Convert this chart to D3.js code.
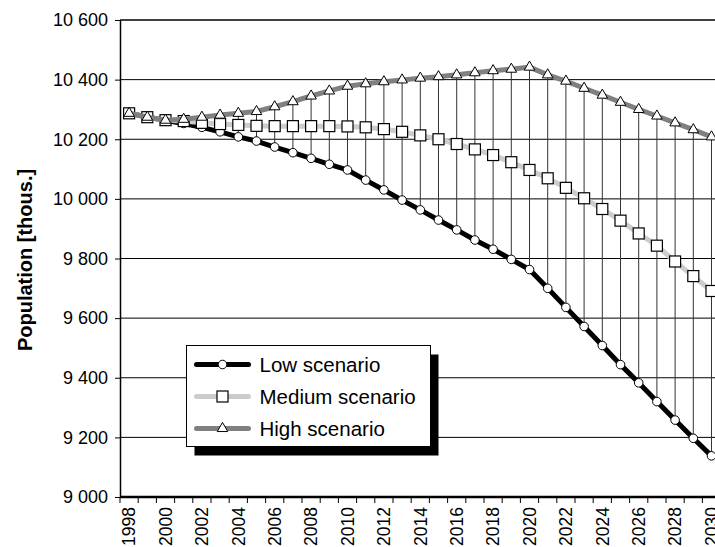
<!DOCTYPE html>
<html>
<head>
<meta charset="utf-8">
<script src="https://cdn.jsdelivr.net/npm/d3@7"></script>
<style>
html,body{margin:0;padding:0;background:#fff;overflow:hidden;}
svg{display:block;font-family:"Liberation Sans",Arial,Helvetica,sans-serif;}
</style>
</head>
<body>
<svg id="chart" width="715" height="547"></svg>
<script>
const years = d3.range(1998, 2031);
const lowValues = [10287,10275,10263,10253,10240,10225,10208,10194,10174,10155,10136,10116,10097,10063,10030,9996,9963,9929,9896,9862,9831,9797,9763,9700,9636,9572,9508,9444,9383,9320,9258,9197,9138];
const mediumValues = [10287,10274,10264,10261,10255,10251,10248,10245,10244,10244,10244,10244,10243,10240,10234,10225,10213,10200,10184,10166,10147,10123,10097,10069,10037,10002,9966,9927,9884,9843,9790,9741,9691];
const highValues = [10287,10274,10264,10267,10274,10281,10287,10293,10309,10326,10345,10362,10378,10386,10393,10399,10405,10410,10416,10423,10430,10435,10442,10416,10395,10371,10348,10324,10300,10278,10255,10232,10208];
const yTickValues = [9000,9200,9400,9600,9800,10000,10200,10400,10600];
const xTickLabels = years.filter(y => y % 2 === 0);
const seriesNames = ["Low scenario","Medium scenario","High scenario"];

const svg = d3.select("#chart");
const plotL = 120, plotT = 20, plotB = 497, bandW = 18.2;
const plotR = plotL + bandW * years.length;

const x = d3.scaleBand().domain(years).range([plotL, plotR]).paddingInner(0).paddingOuter(0);
const cx = d => x(d) + x.bandwidth() / 2;
const y = d3.scaleLinear().domain([9000, 10600]).range([plotB, plotT]);
const fmt = v => d3.format(",")(v).replace(",", " ");

// gridlines
svg.append("g").selectAll("line").data(yTickValues.filter(v => v > 9000)).join("line")
  .attr("x1", plotL).attr("x2", plotR)
  .attr("y1", d => y(d)).attr("y2", d => y(d))
  .attr("stroke", "#000").attr("stroke-width", d => d === 10600 ? 1.6 : 1);

// y axis
const yAxis = svg.append("g").attr("transform", `translate(${plotL},0)`)
  .call(d3.axisLeft(y).tickValues(yTickValues).tickFormat(fmt).tickSizeInner(5).tickSizeOuter(0).tickPadding(7));
yAxis.select(".domain").attr("stroke", "#000").attr("stroke-width", 1.5);
yAxis.selectAll(".tick line").attr("stroke", "#000");
yAxis.selectAll(".tick text").attr("font-size", 18).attr("fill", "#000")
  .attr("font-family", "'Liberation Sans',Arial,sans-serif");

// y title
svg.append("text")
  .attr("transform", `translate(32,260) rotate(-90)`)
  .attr("text-anchor", "middle")
  .attr("font-size", 20).attr("font-weight", "bold")
  .text("Population [thous.]");

// x axis
const xAxisG = svg.append("g").attr("transform", `translate(0,${plotB})`);
xAxisG.append("line").attr("x1", plotL).attr("x2", plotR).attr("y1", 0).attr("y2", 0)
  .attr("stroke", "#000").attr("stroke-width", 2.5);
xAxisG.selectAll("line.tk").data(years.concat([null])).join("line").attr("class", "tk")
  .attr("x1", d => d === null ? plotR : x(d)).attr("x2", d => d === null ? plotR : x(d))
  .attr("y1", 0).attr("y2", 6).attr("stroke", "#000").attr("stroke-width", 1);
xAxisG.selectAll("text").data(xTickLabels).join("text")
  .attr("transform", d => `translate(${cx(d)},10) rotate(-90)`)
  .attr("text-anchor", "end").attr("dy", "0.36em")
  .attr("font-size", 17.5).attr("fill", "#000")
  .text(d => d);

// drop lines high -> low
svg.append("g").selectAll("line").data(years).join("line")
  .attr("x1", d => cx(d)).attr("x2", d => cx(d))
  .attr("y1", (d, i) => y(highValues[i])).attr("y2", (d, i) => y(lowValues[i]))
  .attr("stroke", "#333").attr("stroke-width", 1);

const line = d3.line().x((d, i) => cx(years[i])).y(d => y(d));

// low
svg.append("path").datum(lowValues).attr("d", line)
  .attr("fill", "none").attr("stroke", "#000").attr("stroke-width", 5);
svg.append("g").selectAll("circle").data(lowValues).join("circle")
  .attr("cx", (d, i) => cx(years[i])).attr("cy", d => y(d)).attr("r", 4.3)
  .attr("fill", "#fff").attr("stroke", "#000").attr("stroke-width", 1);

// medium
svg.append("path").datum(mediumValues).attr("d", line)
  .attr("fill", "none").attr("stroke", "#cccccc").attr("stroke-width", 5);
svg.append("g").selectAll("rect").data(mediumValues).join("rect")
  .attr("x", (d, i) => cx(years[i]) - 5.5).attr("y", d => y(d) - 5.5)
  .attr("width", 11).attr("height", 11)
  .attr("fill", "#fff").attr("stroke", "#000").attr("stroke-width", 1.2);

// high
const tri = d3.symbol().type(d3.symbolTriangle).size(48);
svg.append("path").datum(highValues).attr("d", line)
  .attr("fill", "none").attr("stroke", "#808080").attr("stroke-width", 5);
svg.append("g").selectAll("path").data(highValues).join("path")
  .attr("transform", (d, i) => `translate(${cx(years[i])},${y(d)})`)
  .attr("d", tri)
  .attr("fill", "#fff").attr("stroke", "#000").attr("stroke-width", 1);

// legend
const lg = svg.append("g").attr("transform", "translate(186.5,345.5)");
lg.append("rect").attr("x", 8).attr("y", 9).attr("width", 244).attr("height", 101).attr("fill", "#000");
lg.append("rect").attr("x", 0).attr("y", 0).attr("width", 244).attr("height", 101)
  .attr("fill", "#fff").attr("stroke", "#000").attr("stroke-width", 1);
const legendStyles = [
  {color: "#000", marker: "circle"},
  {color: "#cccccc", marker: "square"},
  {color: "#808080", marker: "triangle"}
];
seriesNames.forEach((name, i) => {
  const ry = 19 + i * 32;
  const s = legendStyles[i];
  lg.append("line").attr("x1", 10).attr("x2", 62).attr("y1", ry).attr("y2", ry)
    .attr("stroke", s.color).attr("stroke-width", 5).attr("stroke-linecap", "round");
  if (s.marker === "circle") {
    lg.append("circle").attr("cx", 36).attr("cy", ry).attr("r", 4.3)
      .attr("fill", "#fff").attr("stroke", "#000");
  } else if (s.marker === "square") {
    lg.append("rect").attr("x", 30.5).attr("y", ry - 5.5).attr("width", 11).attr("height", 11)
      .attr("fill", "#fff").attr("stroke", "#000").attr("stroke-width", 1.2);
  } else {
    lg.append("path").attr("transform", `translate(36,${ry})`).attr("d", tri)
      .attr("fill", "#fff").attr("stroke", "#000");
  }
  lg.append("text").attr("x", 73).attr("y", ry).attr("dy", "0.36em")
    .attr("font-size", 20.5).attr("fill", "#000").text(name);
});
</script>
</body>
</html>
